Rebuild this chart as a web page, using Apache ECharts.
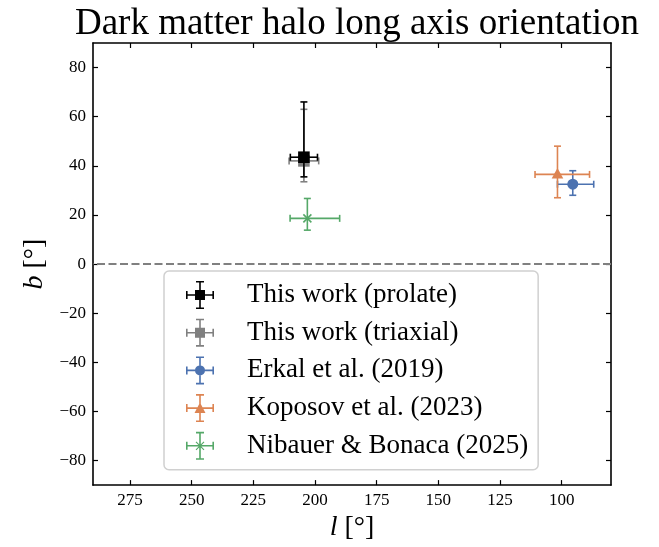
<!DOCTYPE html>
<html lang="en">
<head>
    <meta charset="utf-8">
    <script src="https://cdn.jsdelivr.net/npm/echarts@6/dist/echarts.min.js"></script>
    <title>Dark matter halo long axis orientation</title>
    <style>
        html, body { margin: 0; padding: 0; background: #fff; }
        #main { width: 659px; height: 547px; }
    </style>
</head>
<body>
<div id="main"></div>
<script>
    // measurements, one entry per study
    var names = ['This work (prolate)', 'This work (triaxial)', 'Erkal et al. (2019)', 'Koposov et al. (2023)', 'Nibauer & Bonaca (2025)'];
    var colors = ['#000000', '#808080', '#4C72B0', '#DD8452', '#55A868'];
    var markers = ['square', 'square', 'circle', 'triangle', 'x'];
    var lVals = [204.5, 204.5, 95.5, 101.7, 203.1];
    var bVals = [43.5, 42.0, 32.5, 36.5, 18.6];
    var lLow = [199.0, 198.5, 87.0, 88.7, 190.0];
    var lHigh = [210.0, 210.5, 101.7, 110.8, 210.1];
    var bLow = [35.5, 33.5, 28.0, 27.0, 13.8];
    var bHigh = [66.0, 63.0, 38.0, 48.0, 26.7];

    var xTicks = [100, 125, 150, 175, 200, 225, 250, 275];
    var yTicks = [-80, -60, -40, -20, 0, 20, 40, 60, 80];

    var SERIF = '"Liberation Serif", "DejaVu Serif", serif';

    // legend icons: error-bar cross + marker, drawn in a 28x28 box
    var crossPath = 'M0 13.2 H28 V14.8 H0 Z M13.2 0 H14.8 V28 H13.2 Z ' +
        'M0 10 H1.6 V18 H0 Z M26.4 10 H28 V18 H26.4 Z M10 0 H18 V1.6 H10 Z M10 26.4 H18 V28 H10 Z ';
    var markerPath = {
        square: 'M9 9 H19 V19 H9 Z',
        circle: 'M9 14 A5 5 0 1 1 19 14 A5 5 0 1 1 9 14 Z',
        triangle: 'M14 8.5 L19.5 19 L8.5 19 Z',
        x: 'M9.6 10.4 L10.4 9.6 L18.4 17.6 L17.6 18.4 Z M17.6 9.6 L18.4 10.4 L10.4 18.4 L9.6 17.6 Z'
    };

    function makeRender(color, marker) {
        return function (params, api) {
            var l = api.value(0), b = api.value(1);
            var c = api.coord([l, b]);
            var x1 = api.coord([api.value(2), b]);
            var x2 = api.coord([api.value(3), b]);
            var y1 = api.coord([l, api.value(4)]);
            var y2 = api.coord([l, api.value(5)]);
            var lw = 1.6, cap = 3.5;
            var st = {stroke: color, lineWidth: lw};
            var kids = [
                {type: 'line', shape: {x1: x1[0], y1: c[1], x2: x2[0], y2: c[1]}, style: st},
                {type: 'line', shape: {x1: c[0], y1: y1[1], x2: c[0], y2: y2[1]}, style: st},
                {type: 'line', shape: {x1: x1[0], y1: c[1] - cap, x2: x1[0], y2: c[1] + cap}, style: st},
                {type: 'line', shape: {x1: x2[0], y1: c[1] - cap, x2: x2[0], y2: c[1] + cap}, style: st},
                {type: 'line', shape: {x1: c[0] - cap, y1: y1[1], x2: c[0] + cap, y2: y1[1]}, style: st},
                {type: 'line', shape: {x1: c[0] - cap, y1: y2[1], x2: c[0] + cap, y2: y2[1]}, style: st}
            ];
            if (marker === 'square') {
                kids.push({type: 'rect', shape: {x: c[0] - 5.8, y: c[1] - 5.8, width: 11.6, height: 11.6}, style: {fill: color}});
            } else if (marker === 'circle') {
                kids.push({type: 'circle', shape: {cx: c[0], cy: c[1], r: 5.5}, style: {fill: color}});
            } else if (marker === 'triangle') {
                kids.push({type: 'polygon', shape: {points: [[c[0], c[1] - 6.5], [c[0] + 5.8, c[1] + 4], [c[0] - 5.8, c[1] + 4]]}, style: {fill: color}});
            } else {
                kids.push({type: 'line', shape: {x1: c[0] - 4, y1: c[1] - 4, x2: c[0] + 4, y2: c[1] + 4}, style: st});
                kids.push({type: 'line', shape: {x1: c[0] + 4, y1: c[1] - 4, x2: c[0] - 4, y2: c[1] + 4}, style: st});
            }
            return {type: 'group', children: kids};
        };
    }

    var series = names.map(function (name, i) {
        return {
            name: name,
            type: 'custom',
            z: i === 0 ? 4 : 3,
            itemStyle: {color: colors[i]},
            renderItem: makeRender(colors[i], markers[i]),
            data: [[lVals[i], bVals[i], lLow[i], lHigh[i], bLow[i], bHigh[i]]],
            encode: {x: 0, y: 1}
        };
    });
    // dashed reference line at b = 0
    series.push({
        name: 'zero',
        type: 'line',
        data: [],
        z: 1,
        markLine: {
            silent: true,
            symbol: ['none', 'none'],
            label: {show: false},
            lineStyle: {color: '#808080', width: 2, type: [8, 3.5]},
            data: [{yAxis: 0}]
        }
    });

    var tickStyle = {show: true, inside: true, length: 5, lineStyle: {color: '#000', width: 1.2}};
    var lineStyle = {show: true, onZero: false, lineStyle: {color: '#000', width: 1.6}};

    var chart = echarts.init(document.getElementById('main'));
    chart.setOption({
        animation: false,
        backgroundColor: '#fff',
        title: {
            text: 'Dark matter halo long axis orientation',
            left: 352,
            top: 1,
            textAlign: 'center',
            textStyle: {fontFamily: SERIF, fontSize: 37, fontWeight: 'normal', color: '#000'}
        },
        grid: {left: 93, right: 48, top: 43, bottom: 60},
        legend: {
            orient: 'vertical',
            left: 164,
            top: 271,
            padding: [10, 10, 10, 22],
            itemWidth: 28,
            itemHeight: 28,
            itemGap: 9.7,
            backgroundColor: '#fff',
            borderColor: '#d0d0d0',
            borderWidth: 1.5,
            borderRadius: 5,
            selectedMode: false,
            itemStyle: {borderWidth: 0},
            textStyle: {fontFamily: SERIF, fontSize: 27, color: '#000', padding: [0, 0, 0, 28]},
            data: names.map(function (name, i) {
                return {name: name, icon: 'path://' + crossPath + markerPath[markers[i]]};
            })
        },
        xAxis: [{
            type: 'value',
            min: 80,
            max: 290,
            inverse: true,
            name: '{i|l} [°]',
            nameLocation: 'middle',
            nameGap: 21,
            nameTextStyle: {
                fontFamily: SERIF, fontSize: 28, color: '#000', verticalAlign: 'top',
                rich: {i: {fontFamily: SERIF, fontSize: 28, fontStyle: 'italic', color: '#000'}}
            },
            axisLine: lineStyle,
            axisTick: Object.assign({customValues: xTicks}, tickStyle),
            axisLabel: {customValues: xTicks, margin: 7, fontFamily: SERIF, fontSize: 17, color: '#000'},
            splitLine: {show: false}
        }, {
            type: 'value',
            position: 'top',
            min: 80,
            max: 290,
            inverse: true,
            axisLine: lineStyle,
            axisTick: Object.assign({customValues: xTicks}, tickStyle),
            axisLabel: {show: false},
            splitLine: {show: false}
        }],
        yAxis: [{
            type: 'value',
            min: -90,
            max: 90,
            name: '{i|b} [°]',
            nameLocation: 'middle',
            nameGap: 44,
            nameTextStyle: {
                fontFamily: SERIF, fontSize: 28, color: '#000',
                rich: {i: {fontFamily: SERIF, fontSize: 28, fontStyle: 'italic', color: '#000'}}
            },
            axisLine: lineStyle,
            axisTick: Object.assign({customValues: yTicks}, tickStyle),
            axisLabel: {
                customValues: yTicks, margin: 7, fontFamily: SERIF, fontSize: 17, color: '#000',
                formatter: function (v) { return v < 0 ? '\u2212' + Math.abs(v) : String(v); }
            },
            splitLine: {show: false}
        }, {
            type: 'value',
            position: 'right',
            min: -90,
            max: 90,
            axisLine: lineStyle,
            axisTick: Object.assign({customValues: yTicks}, tickStyle),
            axisLabel: {show: false},
            splitLine: {show: false}
        }],
        series: series
    });
</script>
</body>
</html>
